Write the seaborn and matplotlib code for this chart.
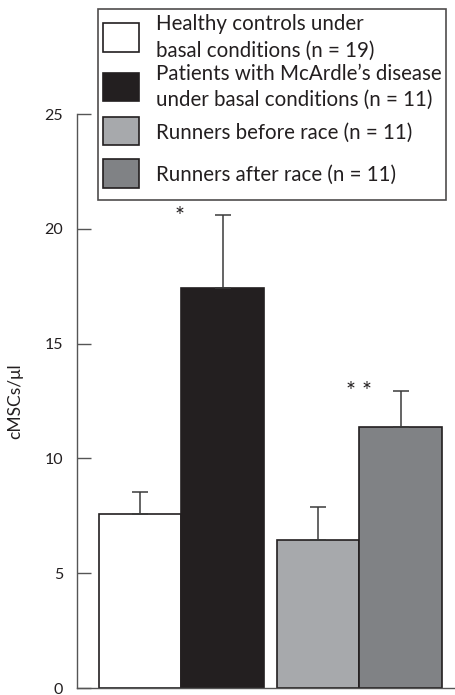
import matplotlib
matplotlib.use("Agg")
import matplotlib.pyplot as plt
import seaborn as sns
import pandas as pd
from matplotlib.patches import Patch, Rectangle
from matplotlib.legend_handler import HandlerPatch

# ---- data ----
labels = ["Healthy controls under\nbasal conditions (n = 19)",
          "Patients with McArdle\u2019s disease\nunder basal conditions (n = 11)",
          "Runners before race (n = 11)",
          "Runners after race (n = 11)"]
groups = ["Basal", "Basal", "Race", "Race"]
slots = ["first", "second", "first", "second"]
means = [7.6, 17.4, 6.45, 11.35]
errors = [0.95, 3.2, 1.45, 1.6]
colors = ["#ffffff", "#231f20", "#a7a9ac", "#808285"]
yticks = [0, 5, 10, 15, 20, 25]
stars = ["*", "* *"]

sns.set_style("ticks")
plt.rcParams["font.family"] = ["Lato", "DejaVu Sans"]

df = pd.DataFrame({"group": groups, "slot": slots, "value": means})

fig = plt.figure(figsize=(4.55, 6.95), dpi=100)
ax = fig.add_axes([77 / 455, 1 - 688 / 695, 1 - 77 / 455, (688 - 114) / 695])

sns.barplot(data=df, x="group", y="value", hue="slot", dodge=True,
            width=0.927, errorbar=None, legend=False, ax=ax,
            palette=["#ffffff", "#ffffff"], edgecolor="#231f20", linewidth=1.2)

bars = sorted([p for p in ax.patches if p.get_height() > 0], key=lambda p: p.get_x())
centers = []
for p, c in zip(bars, colors):
    p.set_facecolor(c)
    centers.append(p.get_x() + p.get_width() / 2)

ax.errorbar(centers, means, yerr=[[0] * len(errors), errors], fmt="none",
            ecolor="#3a3a3a", elinewidth=1.1, capsize=5.5, capthick=1.1, zorder=1)

# significance stars above each group
for gi, s in enumerate(stars):
    top = max(means[2 * gi + k] + errors[2 * gi + k] for k in range(2))
    ax.annotate(s, (gi, top), xytext=(-1.5 if gi == 0 else 0, -5.5),
                textcoords="offset points", ha="center", va="baseline",
                fontsize=17, color="#231f20", annotation_clip=False)

ax.set_ylim(0, 25)
ax.set_xlim(-0.587, 1.537)
ax.set_yticks(yticks)
ax.set_yticklabels([str(t) for t in yticks], fontsize=11.5, color="#231f20")
ax.set_xticks([])
ax.set_xlabel("")
ax.set_ylabel("cMSCs/\u03bcl", fontsize=12.5, color="#231f20", labelpad=15)
ax.tick_params(axis="y", direction="in", length=10, width=1, color="#555555", pad=10)
for side in ["top", "right"]:
    ax.spines[side].set_visible(False)
for side in ["left", "bottom"]:
    ax.spines[side].set_color("#555555")
    ax.spines[side].set_linewidth(1)


def small_box(legend, orig_handle, xdescent, ydescent, width, height, fontsize):
    h = 1.4 * fontsize
    return Rectangle((-xdescent, -ydescent + (height - h) / 2 + 0.08 * fontsize), width, h)


handles = [Patch(facecolor=c, edgecolor="#231f20", linewidth=1.2) for c in colors]
leg = fig.legend(handles, labels, loc="upper left",
                 bbox_to_anchor=(98 / 455, 1 - 9 / 695), bbox_transform=fig.transFigure,
                 borderaxespad=0, fancybox=False, frameon=True, fontsize=14.8,
                 handlelength=1.75, handleheight=2.55, handletextpad=0.8,
                 labelspacing=0.15, borderpad=0.25,
                 handler_map={Patch: HandlerPatch(patch_func=small_box)})
leg.get_frame().set_edgecolor("#231f20")
leg.get_frame().set_linewidth(1.2)
for t in leg.get_texts():
    t.set_color("#231f20")
    t.set_linespacing(1.4)

fig.savefig("out.png", dpi=100)
